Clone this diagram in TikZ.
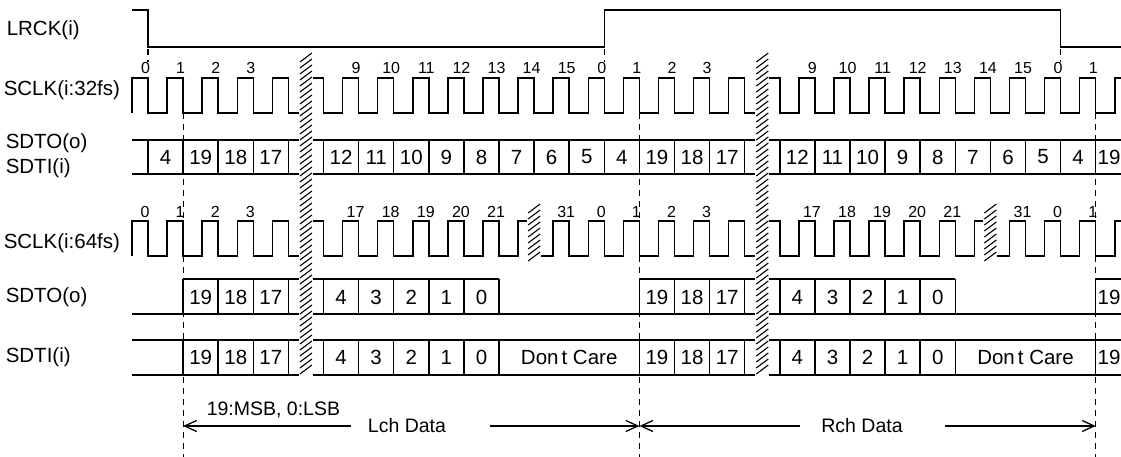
\documentclass[tikz,border=0pt]{standalone}
\usepackage{fontspec}
\setmainfont{Liberation Sans}
\usetikzlibrary{arrows.meta}
\newcommand\myhatch[3]{%
  \fill[white] ({#1-7},#2) rectangle ({#1+7},#3);
  \pgfmathsetmacro\hstart{#2+9}
  \pgfmathsetmacro\hnext{#2+15}
  \foreach \yy in {\hstart,\hnext,...,#3} \draw[hatchline] ({#1-6},\yy) -- ({#1+6},{\yy-9});
}
\begin{document}
\begin{tikzpicture}[x=1pt,y=-1pt, line width=1.5pt, line join=miter,
  lab/.style={font=\fontsize{20.5}{22}\selectfont, anchor=base west, inner sep=0pt},
  num/.style={font=\fontsize{16}{17}\selectfont, anchor=base, inner sep=0pt},
  cell/.style={font=\fontsize{20.5}{21}\selectfont, inner sep=0pt},
  note/.style={font=\fontsize{19.5}{20}\selectfont, inner sep=0pt},
  guide/.style={line width=1.2pt, dash pattern=on 6pt off 5pt},
  hatchline/.style={line width=1.1pt},
  barb/.style={line width=1.3pt}]
\useasboundingbox (0,0) rectangle (1121,457);
\clip (0,0) rectangle (1121,457);

% left labels
\node[lab] (lrck) at (6,35.8) {LRCK(i)};
\node[lab] (sclk32) at (3,95.3) {SCLK(i:32fs)};
\node[lab] (sdto1) at (5,149) {SDTO(o)};
\node[lab] (sdti1) at (5,173.6) {SDTI(i)};
\node[lab] (sclk64) at (3,248.6) {SCLK(i:64fs)};
\node[lab] (sdto2) at (5,302) {SDTO(o)};
\node[lab] (sdti2) at (5,362) {SDTI(i)};

% LRCK
\draw (132,10) -- (148,10) -- (148,47) -- (604.3,47) -- (604.3,10) -- (1060.6,10) -- (1060.6,47) -- (1121,47);

% guide lines
\foreach \k in {0,13,26} \draw[guide] ({148+35.1*\k},49) -- ({148+35.1*\k},62);
\foreach \k in {1,14,27} \draw[guide] ({148+35.1*\k},113) -- ({148+35.1*\k},457);

% SCLK 32fs
\draw (132,113) \foreach \k in {0,...,27}{ -- ++(0,-35) -- ++(16,0) -- ++(0,35) -- ++(19.1,0)} -- ++(0,-35) -- (1121,78);
\foreach \k/\t in {0/0,1/1,2/2,3/3,6/9,7/10,8/11,9/12,10/13,11/14,12/15,13/0,14/1,15/2,16/3,19/9,20/10,21/11,22/12,23/13,24/14,25/15,26/0,27/1}
  \node[num] (ca\k) at ({148+35.1*\k-2.5},74) {\t};

% bus A (32fs)
\draw (132,140) -- (1121,140);
\draw (132,174) -- (1121,174);
\foreach \k in {0,...,27} \draw ({148+35.1*\k},140) -- ({148+35.1*\k},174);
\foreach \k/\t in {0/4,1/19,2/18,3/17,5/12,6/11,7/10,8/9,9/8,10/7,11/6,12/5,13/4,14/19,15/18,16/17,18/12,19/11,20/10,21/9,22/8,23/7,24/6,25/5,26/4}
  \node[cell] (ba\k) at ({148+35.1*\k+17.55},157) {\t};
\node[cell] (ba27) at (1109,157) {19};

% SCLK 64fs
\draw (132,256) \foreach \k in {0,...,27}{ -- ++(0,-35) -- ++(16,0) -- ++(0,35) -- ++(19.1,0)} -- ++(0,-35) -- (1121,221);
\foreach \k/\t in {0/0,1/1,2/2,3/3,6/17,7/18,8/19,9/20,10/21,12/31,13/0,14/1,15/2,16/3,19/17,20/18,21/19,22/20,23/21,25/31,26/0,27/1}
  \node[num] (cb\k) at ({148+35.1*\k-3},217) {\t};

% bus B (SDTO 64fs)
\draw (132,314) -- (1121,314);
\draw ({148+35.1*1},279) -- ({148+35.1*10},279);
\draw ({148+35.1*14},279) -- ({148+35.1*23},279);
\draw ({148+35.1*27},279) -- (1121,279);
\foreach \k in {1,...,10,14,15,...,23,27} \draw ({148+35.1*\k},279) -- ({148+35.1*\k},314);
\foreach \k/\t in {1/19,2/18,3/17,5/4,6/3,7/2,8/1,9/0,14/19,15/18,16/17,18/4,19/3,20/2,21/1,22/0}
  \node[cell] (bb\k) at ({148+35.1*\k+17.55},297) {\t};
\node[cell] (bb27) at (1109,297) {19};

% bus C (SDTI 64fs)
\draw (132,340) -- (1121,340);
\draw (132,375) -- (1121,375);
\foreach \k in {1,...,10,14,15,...,23,27} \draw ({148+35.1*\k},340) -- ({148+35.1*\k},375);
\foreach \k/\t in {1/19,2/18,3/17,5/4,6/3,7/2,8/1,9/0,14/19,15/18,16/17,18/4,19/3,20/2,21/1,22/0}
  \node[cell] (bc\k) at ({148+35.1*\k+17.55},357.5) {\t};
\node[cell] (bc27) at (1109,357.5) {19};
\node[cell] (dc1) at ({148+35.1*12},357.5) {Don\kern3pt t Care};
\node[cell] (dc2) at ({148+35.1*25},357.5) {Don\kern3pt t Care};

% hatches
\myhatch{305.95}{53}{378}
\myhatch{762.25}{53}{378}
\myhatch{534.1}{204}{263}
\myhatch{990.4}{204}{263}

% bottom annotation
\node[note, anchor=base west] (msb) at (206,415) {19:MSB, 0:LSB};
\node[note] (lch) at (407,426) {Lch Data};
\node[note] (rch) at (862,426) {Rch Data};
\coordinate (l0) at ({148+35.1*1},426);
\coordinate (l1) at (351,426);
\coordinate (l2) at (490,426);
\coordinate (m0) at ({148+35.1*14},426);
\coordinate (r1) at (800,426);
\coordinate (r2) at (945,426);
\coordinate (r3) at ({148+35.1*27},426);
\draw[barb, {Straight Barb[length=12pt,width=11pt]}-] (l0) -- (l1);
\draw[barb, -{Straight Barb[length=12pt,width=11pt]}] (l2) -- (m0);
\draw[barb, {Straight Barb[length=12pt,width=11pt]}-] (m0) -- (r1);
\draw[barb, -{Straight Barb[length=12pt,width=11pt]}] (r2) -- (r3);
\end{tikzpicture}
\end{document}
